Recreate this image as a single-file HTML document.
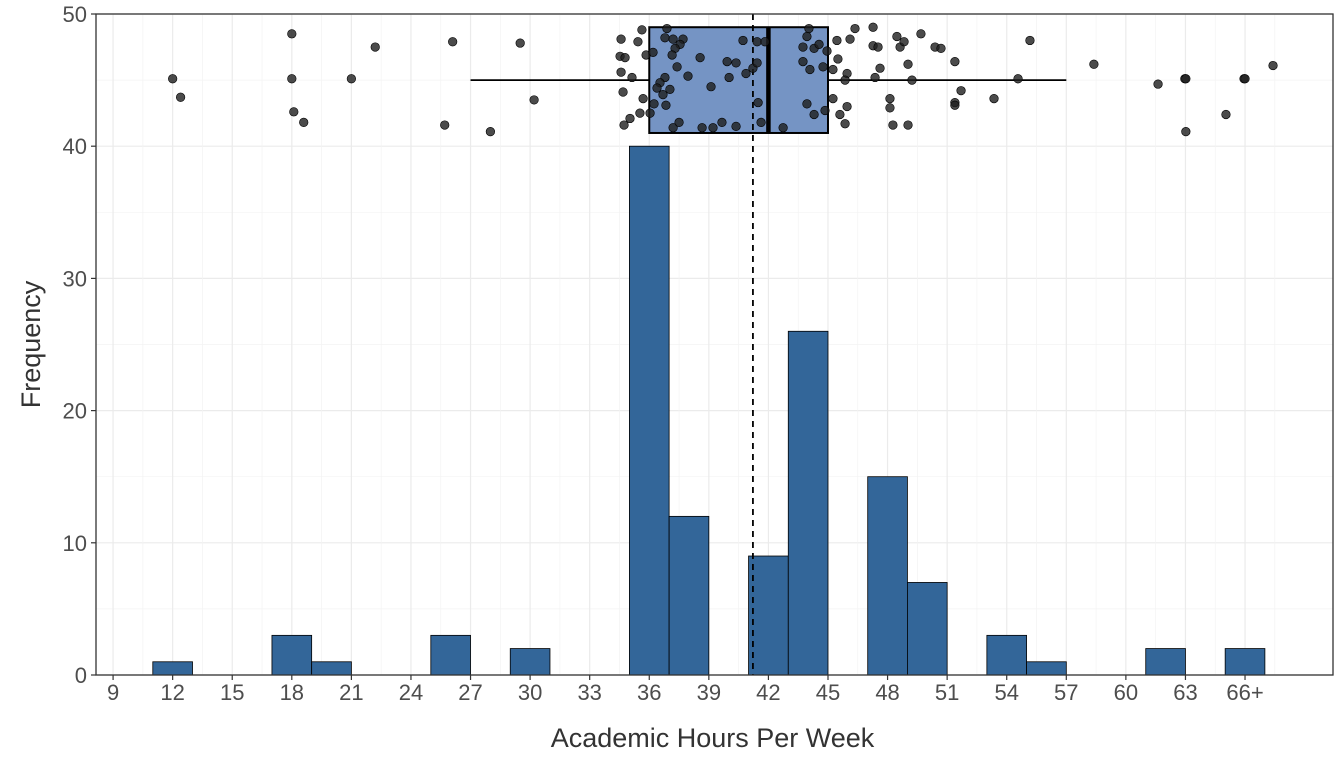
<!DOCTYPE html>
<html><head><meta charset="utf-8"><style>
body{margin:0;background:#fff;}
svg text{font-family:"Liberation Sans",sans-serif;}
</style></head><body>
<svg id="chart" width="1344" height="768" xmlns="http://www.w3.org/2000/svg"></svg>
<script>
const binCenters=[12,18,20,26,30,36,38,42,44,48,50,54,56,62,66];
const binCounts=[1,3,1,3,2,40,12,9,26,15,7,3,1,2,2];
const xTickValues=[9,12,15,18,21,24,27,30,33,36,39,42,45,48,51,54,57,60,63,66];
const xTickLabels=["9","12","15","18","21","24","27","30","33","36","39","42","45","48","51","54","57","60","63","66+"];
const yTickValues=[0,10,20,30,40,50];
const boxStats=[27,36,42,45,57];
const meanValue=41.22;
const pointX=[12.0,12.4,18.0,18.0,18.1,18.6,21.0,22.2,26.1,25.7,28.0,29.5,30.2,
34.58,35.43,35.63,34.53,34.78,35.84,34.58,35.13,34.68,35.69,35.53,35.03,34.73,36.04,
36.89,36.79,37.2,37.7,37.55,37.3,37.15,36.19,38.56,37.4,37.95,36.79,36.54,36.39,37.04,36.69,36.24,36.84,39.11,39.92,40.37,40.02,40.87,41.22,41.43,40.72,41.43,41.83,41.48,41.63,37.2,37.5,38.66,39.21,39.66,40.37,42.74,
44.04,43.94,43.74,44.3,44.55,44.95,43.74,44.09,44.75,43.94,44.3,44.85,45.45,46.11,46.36,47.27,47.27,45.5,45.25,45.96,45.86,47.37,45.25,45.96,45.6,45.86,
47.52,47.62,48.47,48.63,48.12,48.12,48.27,49.03,48.83,49.03,49.23,49.68,50.39,50.69,51.39,51.39,51.39,51.7,53.36,54.57,55.17,58.39,61.62,62.97,63.02,63.02,65.04,65.95,66.0,67.41];
const pointY=[45.1,43.7,48.5,45.1,42.6,41.8,45.1,47.5,47.9,41.6,41.1,47.8,43.5,
48.1,47.9,48.8,46.8,46.7,46.9,45.6,45.2,44.1,43.6,42.5,42.1,41.6,42.5,
48.9,48.2,48.1,48.1,47.7,47.4,46.9,47.1,46.7,46.0,45.3,45.2,44.8,44.4,44.3,43.9,43.2,43.1,44.5,46.4,46.3,45.2,45.5,45.9,46.3,48.0,47.9,47.9,43.3,41.8,41.4,41.8,41.4,41.4,41.8,41.5,41.4,
48.9,48.3,47.5,47.4,47.7,47.2,46.4,45.8,46.0,43.2,42.4,42.7,48.0,48.1,48.9,49.0,47.6,46.6,45.8,45.5,45.0,45.2,43.6,43.0,42.4,41.7,
47.5,45.9,48.3,47.5,43.6,42.9,41.6,41.6,47.9,46.2,45.0,48.5,47.5,47.4,46.4,43.3,43.1,44.2,43.6,45.1,48.0,46.2,44.7,45.1,45.1,41.1,42.4,45.1,45.1,46.1];

const L=96,R=1333,T=14,B=675;
const xMin=8.14,xMax=70.43,yMin=0,yMax=50;
const sx=v=>L+(v-xMin)/(xMax-xMin)*(R-L);
const sy=v=>B-(v-yMin)/(yMax-yMin)*(B-T);
const svg=document.getElementById('chart');
const NS='http://www.w3.org/2000/svg';
function mk(tag,attrs,parent){const e=document.createElementNS(NS,tag);for(const k in attrs)e.setAttribute(k,attrs[k]);(parent||svg).appendChild(e);return e;}

let e=mk('rect',{x:L,y:T,width:R-L,height:B-T,fill:'#fff'});


const grid=mk('g',{});


for(let i=0;i<yTickValues.length;i++){
  mk('line',{x1:L,x2:R,y1:sy(yTickValues[i]),y2:sy(yTickValues[i]),stroke:'#ebebeb','stroke-width':1.2},grid);
  if(i<yTickValues.length-1){const m=(yTickValues[i]+yTickValues[i+1])/2;mk('line',{x1:L,x2:R,y1:sy(m),y2:sy(m),stroke:'#f3f3f3','stroke-width':0.7},grid);}
}
for(let i=0;i<xTickValues.length;i++){
  mk('line',{x1:sx(xTickValues[i]),x2:sx(xTickValues[i]),y1:T,y2:B,stroke:'#ebebeb','stroke-width':1.2},grid);
  const m=xTickValues[i]+1.5;mk('line',{x1:sx(m),x2:sx(m),y1:T,y2:B,stroke:'#f3f3f3','stroke-width':0.7},grid);
}
const bars=mk('g',{});


for(let i=0;i<binCenters.length;i++){
  const b=mk('rect',{x:sx(binCenters[i]-1),y:sy(binCounts[i]),width:sx(binCenters[i]+1)-sx(binCenters[i]-1),height:sy(0)-sy(binCounts[i]),fill:'#336699',stroke:'#000','stroke-width':0.8},bars);
  
  
}
// boxplot
const bx=mk('g',{});


const yMid=sy(45);
mk('line',{x1:sx(boxStats[0]),x2:sx(boxStats[1]),y1:yMid,y2:yMid,stroke:'#000','stroke-width':1.8},bx);
mk('line',{x1:sx(boxStats[3]),x2:sx(boxStats[4]),y1:yMid,y2:yMid,stroke:'#000','stroke-width':1.8},bx);
mk('rect',{x:sx(boxStats[1]),y:sy(49),width:sx(boxStats[3])-sx(boxStats[1]),height:sy(41)-sy(49),fill:'#7594c4',stroke:'#000','stroke-width':2},bx);
mk('line',{x1:sx(boxStats[2]),x2:sx(boxStats[2]),y1:sy(49),y2:sy(41),stroke:'#000','stroke-width':4.5},bx);
e=mk('line',{x1:sx(meanValue),x2:sx(meanValue),y1:T,y2:B,stroke:'#000','stroke-width':1.8,'stroke-dasharray':'6,5'});


const pts=mk('g',{});


for(let i=0;i<pointX.length;i++){
  const c=mk('circle',{cx:sx(pointX[i]),cy:sy(pointY[i]),r:4.3,fill:'rgba(30,30,30,0.8)',stroke:'#000','stroke-width':0.6},pts);
  
  
}
e=mk('rect',{x:L,y:T,width:R-L,height:B-T,fill:'none',stroke:'#333','stroke-width':1.3});


// axes
const ya=mk('g',{});


for(const v of yTickValues){
  mk('line',{x1:L-5,x2:L,y1:sy(v),y2:sy(v),stroke:'#333','stroke-width':1.2},ya);
  const t=mk('text',{x:L-9,y:sy(v)+8,'text-anchor':'end','font-size':22,fill:'#4d4d4d'},ya);t.textContent=v;
}
const xa=mk('g',{});


for(let i=0;i<xTickValues.length;i++){
  mk('line',{x1:sx(xTickValues[i]),x2:sx(xTickValues[i]),y1:B,y2:B+5,stroke:'#333','stroke-width':1.2},xa);
  const t=mk('text',{x:sx(xTickValues[i]),y:B+25,'text-anchor':'middle','font-size':22,fill:'#4d4d4d'},xa);t.textContent=xTickLabels[i];
}
e=mk('text',{x:(L+R)/2-2,y:747,'text-anchor':'middle','font-size':27,fill:'#333'});
e.textContent='Academic Hours Per Week';


e=mk('text',{x:0,y:0,'text-anchor':'middle','font-size':27,fill:'#333',transform:'translate(40,'+((T+B)/2)+') rotate(-90)'});
e.textContent='Frequency';


</script>
</body></html>
